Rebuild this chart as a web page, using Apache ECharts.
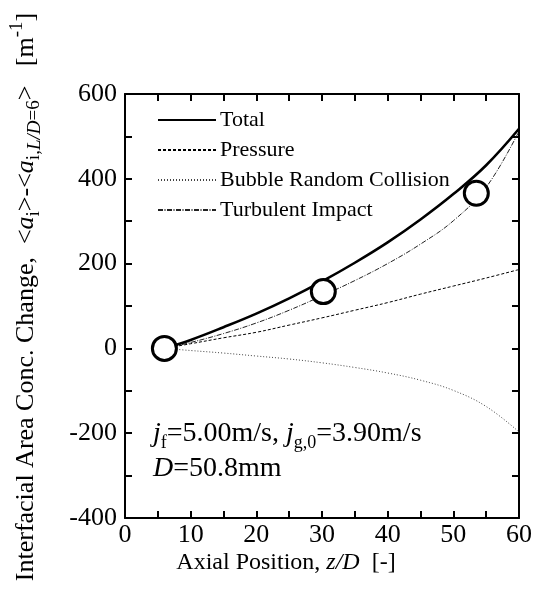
<!DOCTYPE html>
<html>
<head>
<meta charset="utf-8">
<script src="https://cdn.jsdelivr.net/npm/echarts@6/dist/echarts.min.js"></script>
<style>html,body{margin:0;padding:0;background:#fff}#c{width:542px;height:596px}</style>
</head>
<body>
<div id="c"></div>
<script>
var positions = [6, 10, 15, 20, 25, 30, 35, 40, 45, 50, 55, 60];
var totalVals = [0, 20, 50, 82, 118, 158, 202, 250, 304, 364, 432, 518];
var pressureVals = [0, 11, 25, 38, 55, 72, 90, 108, 128, 147, 166, 186];
var collisionVals = [0, -5, -11, -18, -25, -34, -45, -58, -75, -99, -137, -197];
var turbulentVals = [0, 14, 35, 60, 90, 124, 160, 200, 246, 301, 380, 512];
var measX = [6, 30.2, 53.5];
var measY = [0, 134, 366];
var seriesNames = ['Total', 'Pressure', 'Bubble Random Collision', 'Turbulent Impact'];
var xTicks = [0, 10, 20, 30, 40, 50, 60];
var yTicks = [-400, -200, 0, 200, 400, 600];

function pairs(xs, ys) { return xs.map(function (x, i) { return [x, ys[i]]; }); }

var FONT = 'Liberation Serif';
var chart = echarts.init(document.getElementById('c'), null, { renderer: 'canvas' });

var axisCommon = {
  axisLine: { show: true, onZero: false, lineStyle: { color: '#000', width: 2 } },
  axisTick: { show: true, inside: true, length: 7, lineStyle: { color: '#000', width: 2 } },
  splitLine: { show: false }
};

function lineSeries(name, vals, style) {
  return {
    name: name, type: 'line', data: pairs(positions, vals),
    smooth: 0.4, symbol: 'none', showSymbol: false,
    lineStyle: style, itemStyle: { color: style.color }
  };
}

var option = {
  animation: false,
  backgroundColor: '#fff',
  grid: { left: 125, right: 23, top: 94, bottom: 78, containLabel: false },
  xAxis: [
    Object.assign({
      type: 'value', min: 0, max: 60, interval: 5, position: 'bottom',
      axisLabel: {
        color: '#000', fontFamily: FONT, fontSize: 26, margin: 4,
        formatter: function (v) { return xTicks.indexOf(v) >= 0 ? String(v) : ''; }
      }
    }, axisCommon),
    Object.assign({
      type: 'value', min: 0, max: 60, interval: 5, position: 'top',
      axisLabel: { show: false }
    }, axisCommon)
  ],
  yAxis: [
    Object.assign({
      type: 'value', min: -400, max: 600, interval: 100, position: 'left',
      axisLabel: {
        color: '#000', fontFamily: FONT, fontSize: 26, margin: 8,
        formatter: function (v) { return yTicks.indexOf(v) >= 0 ? String(v) : ''; }
      }
    }, axisCommon),
    Object.assign({
      type: 'value', min: -400, max: 600, interval: 100, position: 'right',
      axisLabel: { show: false }
    }, axisCommon)
  ],
  legend: {
    data: seriesNames,
    orient: 'vertical',
    left: 157, top: 109, padding: 0,
    itemWidth: 58, itemHeight: 14, itemGap: 8,
    itemStyle: { opacity: 0 },
    textStyle: { color: '#000', fontFamily: FONT, fontSize: 22, padding: [0, 0, 0, -1] }
  },
  series: [
    Object.assign(lineSeries(seriesNames[0], totalVals, { color: '#000', width: 2.6, type: 'solid' }), { z: 5 }),
    lineSeries(seriesNames[1], pressureVals, { color: '#000', width: 1, type: [3, 2] }),
    lineSeries(seriesNames[2], collisionVals, { color: '#444', width: 1, type: [1, 2] }),
    lineSeries(seriesNames[3], turbulentVals, { color: '#222', width: 1, type: [5, 1.5, 1, 1.5] }),
    {
      name: 'Measured', type: 'scatter', data: pairs(measX, measY),
      symbol: 'circle', symbolSize: 24,
      itemStyle: { color: '#fff', borderColor: '#000', borderWidth: 3, opacity: 1 }, z: 10
    }
  ],
  graphic: [
    {
      type: 'text', x: 286, y: 563,
      style: {
        text: '{n|Axial Position, }{i|z/D}{n|  [-]}',
        fill: '#000', align: 'center', verticalAlign: 'middle',
        rich: {
          n: { fontFamily: FONT, fontSize: 24 },
          i: { fontStyle: 'italic', fontFamily: FONT, fontSize: 24 }
        }
      }
    },
    {
      type: 'text', x: 26, y: 297, rotation: Math.PI / 2,
      style: {
        text: '{n|Interfacial Area Conc. Change,  <}{i|a}{sub|i}{n|>-<}{i|a}{sub|i,}{subi|L/D}{sub|=6}{n|>   [m}{sup|-1}{n|]}',
        fill: '#000', align: 'center', verticalAlign: 'middle',
        rich: {
          n: { fontFamily: FONT, fontSize: 26, lineHeight: 36, verticalAlign: 'middle' },
          i: { fontFamily: FONT, fontSize: 26, fontStyle: 'italic', lineHeight: 36, verticalAlign: 'middle' },
          sub: { fontFamily: FONT, fontSize: 19, lineHeight: 14, verticalAlign: 'bottom' },
          subi: { fontFamily: FONT, fontSize: 19, fontStyle: 'italic', lineHeight: 14, verticalAlign: 'bottom' },
          sup: { fontFamily: FONT, fontSize: 19, lineHeight: 14, verticalAlign: 'top' }
        }
      }
    },
    {
      type: 'text', x: 153, y: 434,
      style: {
        text: '{i|j}{sub|f}{n|=5.00m/s, }{i|j}{sub|g,0}{n|=3.90m/s}',
        fill: '#000', align: 'left', verticalAlign: 'middle',
        rich: {
          n: { fontFamily: FONT, fontSize: 28, lineHeight: 36, verticalAlign: 'middle' },
          i: { fontFamily: FONT, fontSize: 28, fontStyle: 'italic', lineHeight: 36, verticalAlign: 'middle' },
          sub: { fontFamily: FONT, fontSize: 18, lineHeight: 14, verticalAlign: 'bottom' }
        }
      }
    },
    {
      type: 'text', x: 153, y: 469,
      style: {
        text: '{i|D}{n|=50.8mm}',
        fill: '#000', align: 'left', verticalAlign: 'middle',
        rich: {
          n: { fontFamily: FONT, fontSize: 28, lineHeight: 36, verticalAlign: 'middle' },
          i: { fontFamily: FONT, fontSize: 28, fontStyle: 'italic', lineHeight: 36, verticalAlign: 'middle' }
        }
      }
    }
  ]
};
chart.setOption(option);
</script>
</body>
</html>
